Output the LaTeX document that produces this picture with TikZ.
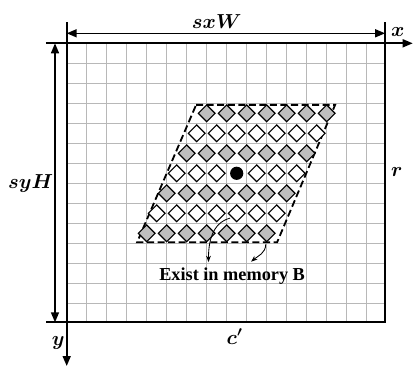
\documentclass[tikz,border=0pt]{standalone}
\usepackage{amsmath}
\usepackage{amssymb}
\usepackage{xcolor}
\usepackage{fontspec}
\setmainfont{Liberation Serif}
\usepackage{tikz}
\usetikzlibrary{arrows.meta,shapes.geometric}

\begin{document}
\begin{tikzpicture}[x=0.5cm,y=0.5cm,>={Triangle[length=2.5mm,width=2mm]},
  gridline/.style={black!28,line width=0.6pt},
  frame/.style={black,line width=1.3pt},
  axis/.style={black,line width=1.2pt},
  dimline/.style={black,line width=1.1pt,{Triangle[length=2.5mm,width=2mm]}-{Triangle[length=2.5mm,width=2mm]}},
  window/.style={black,line width=1.3pt,dash pattern=on 5pt off 2.5pt},
  dgray/.style={diamond,draw,fill=black!25,line width=0.8pt,inner sep=0pt,minimum size=4.3mm},
  dwhite/.style={diamond,draw,fill=white,line width=0.8pt,inner sep=0pt,minimum size=4.3mm},
  lbl/.style={font=\fontsize{14}{16}\selectfont\boldmath},
  note/.style={-{Stealth[length=1.6mm]},black,line width=0.6pt}]
  \useasboundingbox (-3.335,2.165) rectangle (17.365,-16.185);
  % image grid
  \draw[gridline,step=1] (0,0) grid (15.92,-13.95);
  \coordinate (O) at (0,0);
  \coordinate (xs) at (-1.035,0);
  \coordinate (xe) at (17.3,0);
  \coordinate (yt) at (0,1.065);
  \coordinate (ye) at (0,-16.135);
  \coordinate (bl) at (-1.035,-13.95);
  \coordinate (br) at (15.92,-13.95);
  \coordinate (tr) at (15.92,0);
  \coordinate (trt) at (15.92,1.065);
  \coordinate (wl) at (0,0.5);
  \coordinate (wr) at (15.92,0.5);
  \coordinate (ht) at (-0.585,0);
  \coordinate (hb) at (-0.585,-13.95);
  \draw[frame] (tr) -- (br) -- (bl);
  \draw[axis,->] (xs) -- (xe);
  \draw[axis,->] (yt) -- (ye);
  \draw[axis] (trt) -- (tr);
  \draw[dimline] (wl) -- (wr);
  \draw[dimline] (ht) -- (hb);
  \node[lbl] (sxw) at (7.5,1.1) {$sxW$};
  \node[lbl] (xl) at (16.55,0.55) {$x$};
  \node[lbl] (syh) at (-1.8,-7.0) {$syH$};
  \node[lbl] (rl) at (16.5,-6.43) {$r$};
  \node[lbl] (cl) at (8.4,-14.67) {$c'$};
  \node[lbl] (yl) at (-0.42,-15.0) {$y$};
  % search window
  \draw[window] (6.47,-3.08) -- (13.42,-3.08) -- (10.52,-9.95) -- (3.52,-9.95) -- cycle;
  \node[dgray] (d00) at (7,-3.5) {};
  \node[dgray] (d01) at (8,-3.5) {};
  \node[dgray] (d02) at (9,-3.5) {};
  \node[dgray] (d03) at (10,-3.5) {};
  \node[dgray] (d04) at (11,-3.5) {};
  \node[dgray] (d05) at (12,-3.5) {};
  \node[dgray] (d06) at (13,-3.5) {};
  \node[dwhite] (d10) at (6.5,-4.5) {};
  \node[dwhite] (d11) at (7.5,-4.5) {};
  \node[dwhite] (d12) at (8.5,-4.5) {};
  \node[dwhite] (d13) at (9.5,-4.5) {};
  \node[dwhite] (d14) at (10.5,-4.5) {};
  \node[dwhite] (d15) at (11.5,-4.5) {};
  \node[dwhite] (d16) at (12.5,-4.5) {};
  \node[dgray] (d20) at (6,-5.5) {};
  \node[dgray] (d21) at (7,-5.5) {};
  \node[dgray] (d22) at (8,-5.5) {};
  \node[dgray] (d23) at (9,-5.5) {};
  \node[dgray] (d24) at (10,-5.5) {};
  \node[dgray] (d25) at (11,-5.5) {};
  \node[dgray] (d26) at (12,-5.5) {};
  \node[dwhite] (d30) at (5.5,-6.5) {};
  \node[dwhite] (d31) at (6.5,-6.5) {};
  \node[dwhite] (d32) at (7.5,-6.5) {};
  \node[circle,fill=black,inner sep=0pt,minimum size=3.3mm] (ctr) at (8.5,-6.5) {};
  \node[dwhite] (d34) at (9.5,-6.5) {};
  \node[dwhite] (d35) at (10.5,-6.5) {};
  \node[dwhite] (d36) at (11.5,-6.5) {};
  \node[dgray] (d40) at (5,-7.5) {};
  \node[dgray] (d41) at (6,-7.5) {};
  \node[dgray] (d42) at (7,-7.5) {};
  \node[dgray] (d43) at (8,-7.5) {};
  \node[dgray] (d44) at (9,-7.5) {};
  \node[dgray] (d45) at (10,-7.5) {};
  \node[dgray] (d46) at (11,-7.5) {};
  \node[dwhite] (d50) at (4.5,-8.5) {};
  \node[dwhite] (d51) at (5.5,-8.5) {};
  \node[dwhite] (d52) at (6.5,-8.5) {};
  \node[dwhite] (d53) at (7.5,-8.5) {};
  \node[dwhite] (d54) at (8.5,-8.5) {};
  \node[dwhite] (d55) at (9.5,-8.5) {};
  \node[dwhite] (d56) at (10.5,-8.5) {};
  \node[dgray] (d60) at (4,-9.5) {};
  \node[dgray] (d61) at (5,-9.5) {};
  \node[dgray] (d62) at (6,-9.5) {};
  \node[dgray] (d63) at (7,-9.5) {};
  \node[dgray] (d64) at (8,-9.5) {};
  \node[dgray] (d65) at (9,-9.5) {};
  \node[dgray] (d66) at (10,-9.5) {};
  % memory B note
  \node[font=\fontsize{13}{15}\selectfont\bfseries] (memb) at (8.27,-11.62) {Exist in memory B};
  \coordinate (n1s) at (8.17,-8.74);
  \coordinate (n1e) at (7.09,-10.94);
  \coordinate (n2s) at (9.95,-10.05);
  \coordinate (n2e) at (9.22,-10.92);
  \draw[note] (n1s) to[out=195,in=90] (n1e);
  \draw[note] (n2s) to[out=-90,in=40] (n2e);
\end{tikzpicture}
\end{document}
